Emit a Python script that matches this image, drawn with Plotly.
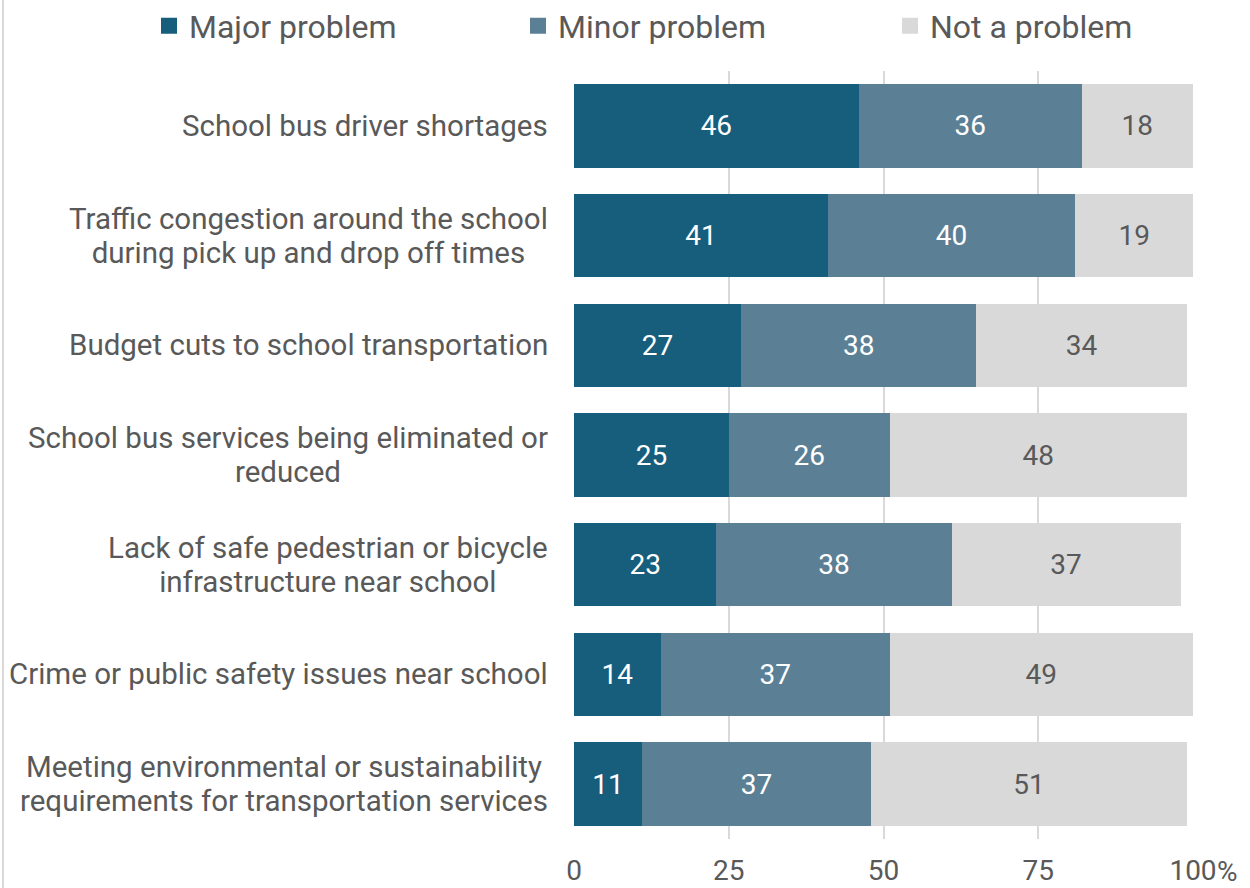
import plotly.graph_objects as go

categories = [
    "School bus driver shortages",
    "Traffic congestion around the school<br>during pick up and drop off times",
    "Budget cuts to school transportation",
    "School bus services being eliminated or<br>reduced",
    "Lack of safe pedestrian or bicycle<br>infrastructure near school",
    "Crime or public safety issues near school",
    "Meeting environmental or sustainability<br>requirements for transportation services",
]
major = [46, 41, 27, 25, 23, 14, 11]
minor = [36, 40, 38, 26, 38, 37, 37]
not_problem = [18, 19, 34, 48, 37, 49, 51]
tick_vals = [0, 25, 50, 75, 100]
tick_text = ["0", "25", "50", "75", "100"]
tick_suffix = "%"

series = [
    ("Major problem", major, "#175d7c", "#ffffff", "legend", 149),
    ("Minor problem", minor, "#5b7f95", "#ffffff", "legend2", 518),
    ("Not a problem", not_problem, "#d9d9d9", "#595959", "legend3", 890),
]

FONT = "Roboto"
fig = go.Figure()
for name, vals, col, tcol, lg, lx in series:
    fig.add_trace(go.Bar(
        y=categories, x=vals, name=name, orientation="h",
        marker=dict(color=col, line=dict(width=0)),
        text=[str(v) for v in vals], textposition="inside",
        insidetextanchor="middle",
        textfont=dict(family=FONT, size=28, color=tcol),
        hoverinfo="skip", showlegend=False,
    ))
    # legend entry with a larger square swatch
    fig.add_trace(go.Scatter(
        x=[None], y=[None], mode="markers", name=name,
        marker=dict(symbol="square", size=18, color=col),
        legend=lg, showlegend=True, hoverinfo="skip",
    ))

for c in categories:
    styled = "<br>".join(
        f'<span style="font-size:29.5px">{line}</span>' for line in c.split("<br>")
    )
    fig.add_annotation(
        x=0, xref="paper", xanchor="right", xshift=-24,
        y=c, yref="y", yanchor="middle",
        text=styled, showarrow=False, align="center",
        font=dict(family=FONT, size=26, color="#595959"),
    )

# "%" suffix placed just after the last tick label
fig.add_annotation(
    x=tick_vals[-1], xref="x", xanchor="left", xshift=22,
    y=0, yref="paper", yanchor="middle", yshift=-32,
    text=tick_suffix, showarrow=False,
    font=dict(family=FONT, size=28, color="#595959"),
)

fig.add_shape(type="line", xref="paper", yref="paper",
              x0=-571/619, x1=-571/619, y0=-49/768, y1=1 + 71/768,
              line=dict(color="#d9d9d9", width=2))

legend_common = dict(
    orientation="h", xref="container", yref="container",
    xanchor="left", yanchor="middle", y=1 - 26/888,
    font=dict(family=FONT, size=32, color="#595959"),
    bgcolor="rgba(0,0,0,0)", itemsizing="trace",
)

fig.update_layout(
    width=1250, height=888,
    margin=dict(l=574, r=57, t=71, b=49, autoexpand=False),
    barmode="stack", bargap=0.24,
    plot_bgcolor="white", paper_bgcolor="white",
    font=dict(family=FONT, color="#595959"),
    uniformtext=dict(mode=False),
    legend=dict(x=series[0][5] / 1250, **legend_common),
    legend2=dict(x=series[1][5] / 1250, **legend_common),
    legend3=dict(x=series[2][5] / 1250, **legend_common),
    xaxis=dict(
        range=[0, 100], tickvals=tick_vals, ticktext=tick_text,
        showgrid=True, gridcolor="#d9d9d9", gridwidth=2,
        zeroline=False, showline=False, ticks="", automargin=False,
        ticklabelstandoff=12,
        tickfont=dict(family=FONT, size=28, color="#595959"),
        fixedrange=True,
    ),
    yaxis=dict(
        autorange="reversed", showticklabels=False, showgrid=False,
        zeroline=False, ticks="", fixedrange=True, automargin=False,
    ),
    showlegend=True,
)

fig.write_html("out.html", config={"displayModeBar": False},
               post_script="document.body.style.margin='0px';")
